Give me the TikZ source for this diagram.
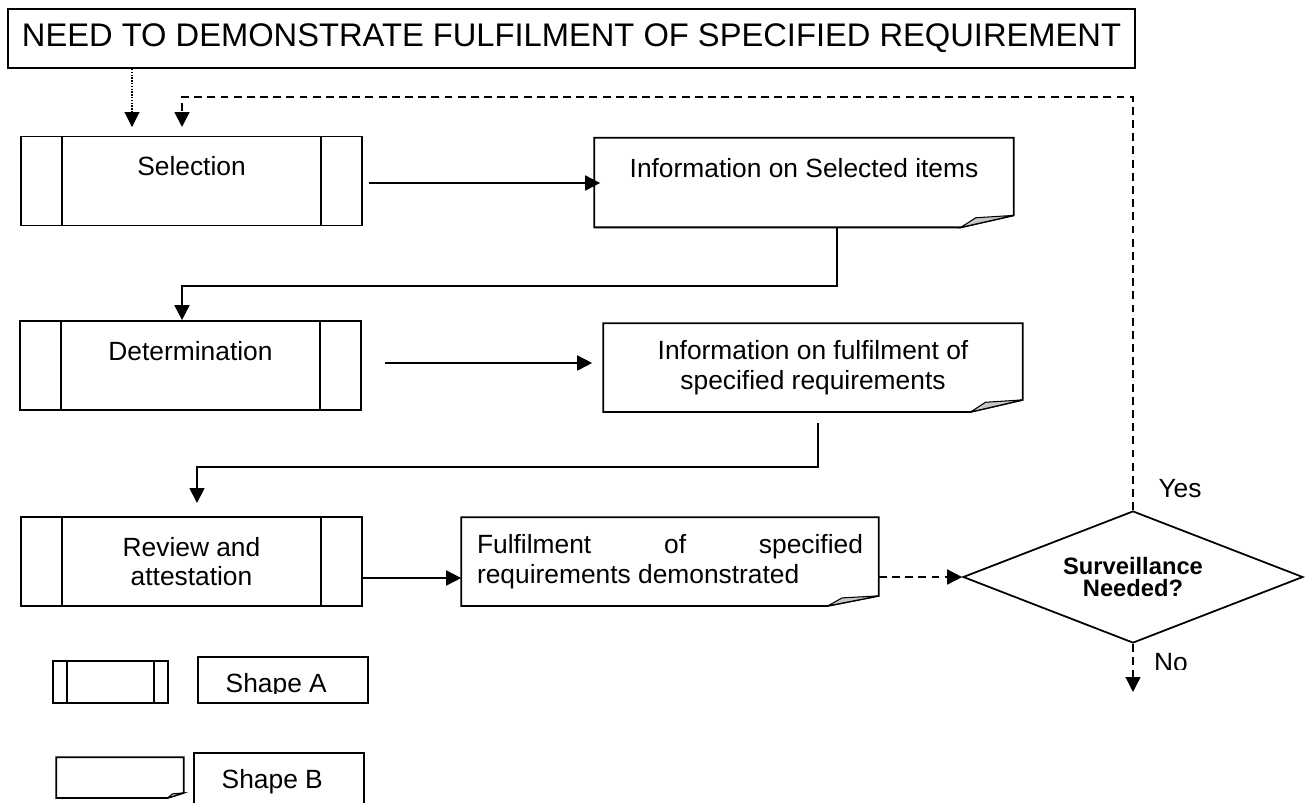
\documentclass[tikz,border=0pt]{standalone}
\usepackage{fontspec}
\setmainfont{Liberation Sans}
\usetikzlibrary{arrows.meta,shapes.geometric}
\definecolor{foldgray}{rgb}{0.78,0.78,0.78}

% shape A: box with a strip at each side
\tikzset{
  procbox/.style={draw, rectangle, minimum width=6.82cm, minimum height=1.78cm,
    inner sep=0pt, align=center,
    path picture={
      \draw ([xshift=#1]path picture bounding box.north west) --
        ([xshift=#1]path picture bounding box.south west);
      \draw ([xshift=-#1]path picture bounding box.north east) --
        ([xshift=-#1]path picture bounding box.south east);}},
  procbox/.default=0.82cm,
  docbox/.style={rectangle, minimum width=8.36cm, minimum height=1.76cm,
    inner sep=0pt, align=center},
  decision/.style={diamond, draw, aspect=2.56, minimum width=6.8cm,
    minimum height=2.64cm, inner sep=0pt, align=center,
    font=\bfseries\fontsize{13.5}{12.5}\selectfont},
  keybox/.style={draw, rectangle, minimum width=3.4cm, inner sep=0pt},
  dashline/.style={dash pattern=on 4.5pt off 3pt},
  dotline/.style={line width=0.6pt, dash pattern=on 0.8pt off 0.8pt}
}
% shape B: outline with the folded corner, #1 node, #2 fold width, #3 fold rise
\newcommand{\docoutline}[3]{%
  \draw (#1.north west) -- (#1.north east) -- ([yshift=#3]#1.south east)
    -- ([xshift=-#2]#1.south east) -- (#1.south west) -- cycle;
  \filldraw[fill=foldgray, line width=0.6pt] ([xshift=-#2]#1.south east)
    -- ([xshift=-0.72*#2, yshift=0.8*#3]#1.south east)
    -- ([yshift=#3]#1.south east) -- cycle;}

\begin{document}
\begin{tikzpicture}[x=0.02cm,y=-0.02cm,line width=1pt,line join=miter,
  >={Triangle[length=0.3cm,width=0.3cm]},
  font=\fontsize{15}{17}\selectfont]
  \useasboundingbox (0,0) rectangle (1311,802);
  \clip (0,0) rectangle (1311,802);

  % title
  \node[draw, minimum width=22.54cm, minimum height=1.18cm, inner sep=0pt,
    font=\fontsize{18.6}{22}\selectfont] (title) at (571.5,38.5)
    {NEED TO DEMONSTRATE FULFILMENT OF SPECIFIED REQUIREMENT};

  % left column
  \node[procbox] (sel) at (191.5,181) {Selection\\~};
  \node[procbox] (det) at (190.5,365.5) {Determination\\~};
  \node[procbox] (rev) at (191.5,561.5) {Review and\\attestation};

  % information shapes
  \node[docbox] (infosel) at (804,182.5) {Information on Selected items\\~};
  \docoutline{infosel}{1.06cm}{0.24cm}
  \node[docbox, minimum height=1.74cm] (infoful) at (813,367.5)
    {Information on fulfilment of\\specified requirements};
  \docoutline{infoful}{1.04cm}{0.24cm}
  \node[docbox, minimum width=8.32cm, minimum height=1.74cm, text width=7.72cm,
    align=justify] (fulfil) at (670,561.5)
    {Fulfilment of specified\linebreak requirements demonstrated};
  \docoutline{fulfil}{1.02cm}{0.2cm}

  % decision
  \node[decision] (chk) at (1133,577) {Surveillance\\Needed?};
  \node[anchor=base] (yes) at (1180,497) {Yes};
  \begin{scope}
    \clip (1140,640) rectangle (1200,669);
    \node[anchor=base] (no) at (1171,671) {No};
  \end{scope}

  % connectors
  \coordinate (in1) at (132,127);
  \coordinate (in2) at (182,127);
  \coordinate (fbtop) at (1133,97);
  \coordinate (b1) at (837,286);
  \coordinate (b2) at (818,467);
  \coordinate (in3) at (197,503);
  \coordinate (out) at (1133,692);
  \draw[dotline,->] (title.south -| in1) -- (in1);
  \draw[dashline,->] (chk.north) -- (fbtop) -| (in2);
  \draw[->] ([xshift=0.12cm,yshift=-0.04cm]sel.east) --
    ([xshift=0.12cm,yshift=-0.04cm]sel.east -| infosel.west);
  \draw[->] (infosel.south -| b1) -- (b1) -| ([xshift=-0.17cm]det.north);
  \draw[->,shorten >=0.22cm] ([shift={(0.46cm,0.05cm)}]det.east) coordinate (a2)
    -- (a2 -| infoful.west);
  \draw[->] ([yshift=-0.22cm]infoful.south -| b2) -- (b2) -| (in3);
  \draw[->] ([yshift=-0.33cm]rev.east) -- ([yshift=-0.33cm]rev.east -| fulfil.west);
  \draw[dashline,->] (fulfil.east |- chk.west) -- (chk.west);
  \draw[dashline,line width=0.7pt,->] (chk.south) -- (out);

  % key
  \node[procbox=0.28cm, minimum width=2.3cm, minimum height=0.84cm] (keya) at (110.5,682) {};
  \node[keybox, minimum height=0.92cm] (keyabox) at (283,680) {};
  \begin{scope}
    \clip (198,657) rectangle (368,693);
    \node[anchor=base west] (keyatxt) at (219,692) {Shape A};
  \end{scope}
  \node[docbox, minimum width=2.52cm, minimum height=0.78cm] (keyb) at (120,777.5) {};
  \docoutline{keyb}{0.32cm}{0.1cm}
  \node[keybox, minimum height=1.54cm] (keybbox) at (279,791.5) {};
  \node[anchor=base west] (keybtxt) at (215,788) {Shape B};
\end{tikzpicture}
\end{document}
